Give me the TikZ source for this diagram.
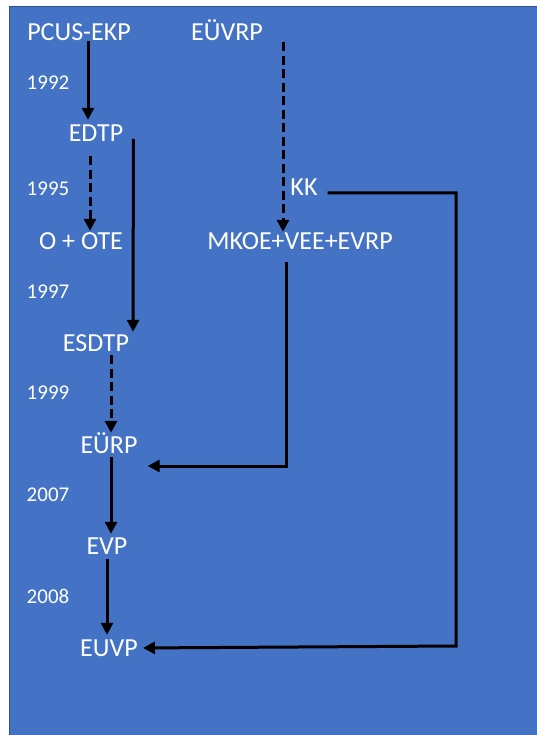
\documentclass[tikz,border=0pt]{standalone}
\usepackage{fontspec}
\setmainfont{Carlito}
\usetikzlibrary{arrows.meta,positioning}
\definecolor{slideblue}{HTML}{4472C4}
\definecolor{slideedge}{HTML}{2F528F}
\tikzset{
  lbl/.style={text=white, inner sep=0pt, font=\fontsize{26}{31}\selectfont, text height=16pt, text depth=0pt},
  yr/.style={text=white, inner sep=0pt, font=\fontsize{21}{25}\selectfont, text height=13.5pt, text depth=0pt},
  flow/.style={line width=3pt, -{Triangle[length=12pt,width=12pt]}},
  dflow/.style={flow, dash pattern=on 9pt off 4.5pt}
}

\begin{document}
\begin{tikzpicture}[x=1pt, y=-1pt]
  \useasboundingbox (0,0) rectangle (536,735);
  \fill[slideblue, draw=slideedge, line width=1pt] (9,7) rectangle (540,740);

  % Top sources
  \node[lbl] (pcus) at (79,33) {PCUS-EKP};
  \node[lbl] (euvrp) at (227,33) {EÜVRP};

  % Main line
  \node[lbl] (edtp) at (96,134) {EDTP};
  \node[lbl] (oote) at (81,241) {O + OTE};
  \node[lbl] (esdtp) at (96,343) {ESDTP};
  \node[lbl] (eurp) at (109,445) {EÜRP};
  \node[lbl] (evp) at (107,546) {EVP};
  \node[lbl] (euvp) at (109,648) {EUVP};

  % Right branch
  \node[lbl] (kk) at (304,188) {KK};
  \node[lbl] (mkoe) at (300,241) {MKOE+VEE+EVRP};

  % Years
  \foreach \yy/\yname in {83/1992, 189/1995, 292/1997, 393/1999, 495/2007, 597/2008}{
    \node[yr] (y\yname) at (48,\yy) {\yname};
  }

  \coordinate (kkturn) at (456,646);

  % Connectors
  \draw[flow, shorten >=6pt] ([xshift=9pt]pcus.south) -- ([xshift=-8pt]edtp.north);
  \draw[dflow, shorten <=14pt, shorten >=2pt] ([xshift=-6pt]edtp.south) -- ([xshift=9pt]oote.north);
  \draw[flow, shorten >=3pt] ([xshift=10pt,yshift=-5pt]edtp.east) -- ([xshift=37pt]esdtp.north);
  \draw[dflow, shorten <=4pt, shorten >=4pt] ([xshift=15pt]esdtp.south) -- ([xshift=2pt]eurp.north);
  \draw[dflow, shorten <=1pt, shorten >=1pt] ([xshift=56pt]euvrp.south) -- ([xshift=-17pt]mkoe.north);
  \draw[flow, shorten <=13pt] ([xshift=-14pt]mkoe.south) |- ([xshift=10pt,yshift=-21pt]eurp.east);
  \draw[flow, shorten <=4pt, shorten >=4pt] ([xshift=2pt]eurp.south) -- ([xshift=4pt]evp.north);
  \draw[flow, shorten <=5pt, shorten >=5pt] (evp.south) -- ([xshift=-2pt]euvp.north);
  \draw[flow, shorten <=10pt, shorten >=5pt] ([yshift=-5pt]kk.east) -| (kkturn) -- (euvp.east);
\end{tikzpicture}
\end{document}
